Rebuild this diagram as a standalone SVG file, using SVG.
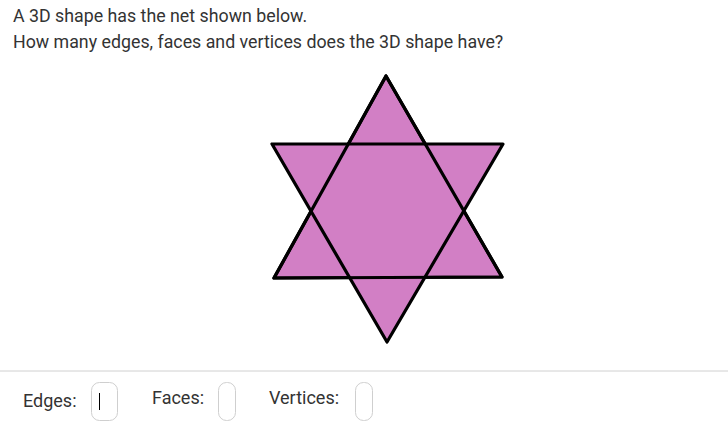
<svg xmlns="http://www.w3.org/2000/svg" width="728" height="441" viewBox="0 0 728 441">
<style>
.t{font-family:Roboto,"Liberation Sans",sans-serif;fill:#333;font-size:17.8px}
.l{font-family:Roboto,"Liberation Sans",sans-serif;fill:#333;font-size:18px}
.tri{fill:#D27FC5;stroke:#000;stroke-width:3.2;stroke-linejoin:round}
.edge{fill:none;stroke:#000;stroke-width:3.2;stroke-linejoin:round}
.box{fill:#fff;stroke:#cfcfcf;stroke-width:1}
</style>
<rect width="728" height="441" fill="#fff"/>
<text class="t" x="13" y="22">A 3D shape has the net shown below.</text>
<text class="t" x="13" y="48">How many edges, faces and vertices does the 3D shape have?</text>
<g id="star">
<polygon class="tri" points="386,76 274,278 502,277"/>
<polygon class="tri" points="272,144 503,144 387,342"/>
<polygon class="edge" points="386,76 274,278 502,277"/>
</g>
<line x1="0" y1="371" x2="728" y2="371" stroke="#d0d0d0" stroke-width="1"/>
<g id="edges">
<text class="l" x="23" y="407">Edges:</text>
<rect class="box" x="91.5" y="382.5" width="26" height="38" rx="8"/>
<line x1="99.5" y1="393" x2="99.5" y2="410" stroke="#000" stroke-width="1"/>
</g>
<g id="faces">
<text class="l" x="152" y="404">Faces:</text>
<rect class="box" x="218.5" y="382.5" width="17" height="38" rx="8"/>
</g>
<g id="vertices">
<text class="l" x="269" y="404">Vertices:</text>
<rect class="box" x="355.5" y="382.5" width="17" height="38" rx="8"/>
</g>
</svg>
